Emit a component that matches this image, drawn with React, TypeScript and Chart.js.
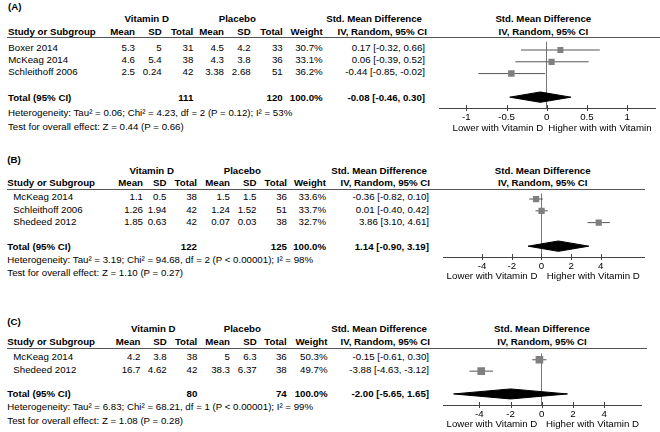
import React, { useEffect, useRef } from "react";
import { Chart, registerables } from "chart.js";
Chart.register(...registerables);

const FONT = '"Liberation Sans", Arial, Helvetica, sans-serif';
const FS = 9.7;

// ---------- Panel A ----------
const A_STUDY = ["Boxer 2014", "McKeag 2014", "Schleithoff 2006"];
const A_VD_MEAN = [5.3, 4.6, 2.5];
const A_VD_SD = [5, 5.4, 0.24];
const A_VD_N = [31, 38, 42];
const A_PL_MEAN = [4.5, 4.3, 3.38];
const A_PL_SD = [4.2, 3.8, 2.68];
const A_PL_N = [33, 36, 51];
const A_WEIGHT = [30.7, 33.1, 36.2];
const A_SMD = [0.17, 0.06, -0.44];
const A_LO = [-0.32, -0.39, -0.85];
const A_HI = [0.66, 0.52, -0.02];
const A_TOTAL_N = [111, 120];
const A_TOTAL_SMD = [-0.08, -0.46, 0.3];
const A_HET = "Heterogeneity: Tau² = 0.06; Chi² = 4.23, df = 2 (P = 0.12); I² = 53%";
const A_TEST = "Test for overall effect: Z = 0.44 (P = 0.66)";
const A_TICKS = [-1, -0.5, 0, 0.5, 1];
const A_LOWER = "Lower with Vitamin D";
const A_HIGHER = "Higher with with Vitamin";

// ---------- Panel B ----------
const B_STUDY = ["McKeag 2014", "Schleithoff 2006", "Shedeed 2012"];
const B_VD_MEAN = [1.1, 1.26, 1.85];
const B_VD_SD = [0.5, 1.94, 0.63];
const B_VD_N = [38, 42, 42];
const B_PL_MEAN = [1.5, 1.24, 0.07];
const B_PL_SD = [1.5, 1.52, 0.03];
const B_PL_N = [36, 51, 38];
const B_WEIGHT = [33.6, 33.7, 32.7];
const B_SMD = [-0.36, 0.01, 3.86];
const B_LO = [-0.82, -0.4, 3.1];
const B_HI = [0.1, 0.42, 4.61];
const B_TOTAL_N = [122, 125];
const B_TOTAL_SMD = [1.14, -0.9, 3.19];
const B_HET = "Heterogeneity: Tau² = 3.19; Chi² = 94.68, df = 2 (P < 0.00001); I² = 98%";
const B_TEST = "Test for overall effect: Z = 1.10 (P = 0.27)";
const B_TICKS = [-4, -2, 0, 2, 4];
const B_LOWER = "Lower with Vitamin D";
const B_HIGHER = "Higher with Vitamin D";

// ---------- Panel C ----------
const C_STUDY = ["McKeag 2014", "Shedeed 2012"];
const C_VD_MEAN = [4.2, 16.7];
const C_VD_SD = [3.8, 4.62];
const C_VD_N = [38, 42];
const C_PL_MEAN = [5, 38.3];
const C_PL_SD = [6.3, 6.37];
const C_PL_N = [36, 38];
const C_WEIGHT = [50.3, 49.7];
const C_SMD = [-0.15, -3.88];
const C_LO = [-0.61, -4.63];
const C_HI = [0.3, -3.12];
const C_TOTAL_N = [80, 74];
const C_TOTAL_SMD = [-2.0, -5.65, 1.65];
const C_HET = "Heterogeneity: Tau² = 6.83; Chi² = 68.21, df = 1 (P < 0.00001); I² = 99%";
const C_TEST = "Test for overall effect: Z = 1.08 (P = 0.28)";
const C_TICKS = [-4, -2, 0, 2, 4];
const C_LOWER = "Lower with Vitamin D";
const C_HIGHER = "Higher with Vitamin D";

const COL_HEADS = ["Mean", "SD", "Total", "Mean", "SD", "Total", "Weight"];

function T({ x, y, a = "l", b = false, children }: any) {
  const tx = a === "r" ? "-100%" : a === "c" ? "-50%" : "0";
  return (
    <div
      style={{
        position: "absolute",
        left: x,
        top: y,
        transform: `translate(${tx}, -50%)`,
        whiteSpace: "nowrap",
        fontWeight: b ? "bold" : "normal",
        lineHeight: 1,
        fontSize: FS,
        fontFamily: FONT,
        color: "#000",
      }}
    >
      {children}
    </div>
  );
}

function Forest(p: any) {
  const ref = useRef<HTMLCanvasElement | null>(null);
  useEffect(() => {
    const rows = p.smd.map((_: number, i: number) => i);
    const tr = p.totalRow;
    const h = 0.44;
    const [te, tl, th] = p.total;
    const ds: any[] = [];
    ds.push({
      data: p.smd.map((v: number, i: number) => ({ x: v, y: rows[i] })),
      pointStyle: "rect",
      pointRadius: p.weight.map((w: number) => (1.08 * Math.sqrt(w)) / Math.SQRT2),
      backgroundColor: "#7f7f7f",
      borderColor: "#7f7f7f",
      borderWidth: 0,
      order: 0,
    });
    ds.push({
      data: [
        { x: tl, y: tr },
        { x: te, y: tr - h },
        { x: th, y: tr },
        { x: te, y: tr + h },
        { x: tl, y: tr },
      ],
      showLine: true,
      fill: "shape",
      backgroundColor: "#000",
      borderColor: "#000",
      borderWidth: 1,
      pointRadius: 0,
      tension: 0,
      order: 1,
    });
    p.smd.forEach((_: number, i: number) =>
      ds.push({
        data: [
          { x: p.lo[i], y: rows[i] },
          { x: p.hi[i], y: rows[i] },
        ],
        showLine: true,
        borderColor: "#555",
        borderWidth: 1,
        pointRadius: 0,
        fill: false,
        order: 2,
      })
    );
    const axisH = p.height - p.plotH;
    const marks = {
      id: "marks",
      afterDraw(chart: any) {
        const { ctx, chartArea } = chart;
        const x = chart.scales.x;
        const yb = chartArea.bottom;
        ctx.save();
        ctx.strokeStyle = "#444";
        ctx.lineWidth = 1;
        x.ticks.forEach((t: any) => {
          const px = Math.round(x.getPixelForValue(t.value)) + 0.5;
          ctx.beginPath();
          ctx.moveTo(px, yb - 3);
          ctx.lineTo(px, yb + 3);
          ctx.stroke();
        });
        ctx.font = `${FS}px ${FONT}`;
        ctx.fillStyle = "#000";
        ctx.textBaseline = "middle";
        const z = x.getPixelForValue(0);
        ctx.textAlign = "right";
        ctx.fillText(p.lower, z - p.gapL, yb + p.labelDy);
        ctx.textAlign = "left";
        ctx.fillText(p.higher, z + p.gapR, yb + p.labelDy);
        ctx.restore();
      },
    };
    const chart = new Chart(ref.current as HTMLCanvasElement, {
      type: "scatter",
      data: { datasets: ds },
      options: {
        responsive: false,
        animation: false,
        events: [],
        layout: { padding: 0 },
        plugins: { legend: { display: false }, tooltip: { enabled: false } },
        scales: {
          x: {
            type: "linear",
            min: p.xMin,
            max: p.xMax,
            afterBuildTicks: (s: any) => {
              s.ticks = p.ticks.map((v: number) => ({ value: v }));
            },
            afterFit: (s: any) => {
              s.height = axisH;
            },
            grid: {
              drawTicks: false,
              color: (c: any) => (c.tick && c.tick.value === 0 ? "#777" : "rgba(0,0,0,0)"),
              lineWidth: 1,
            },
            border: { display: true, color: "#444", width: 1 },
            ticks: {
              autoSkip: false,
              maxRotation: 0,
              padding: 4,
              color: "#000",
              font: { family: FONT, size: FS },
              callback: (v: any) => String(v),
            },
          },
          y: { type: "linear", display: false, reverse: true, min: p.yMin, max: p.yMax },
        },
      } as any,
      plugins: [marks],
    });
    return () => chart.destroy();
  }, []);
  return (
    <canvas
      ref={ref}
      width={p.width}
      height={p.height}
      style={{ position: "absolute", left: p.left, top: p.top, width: p.width, height: p.height }}
    />
  );
}

function Panel(p: any) {
  const L = p.L;
  const f2 = (v: number) => v.toFixed(2);
  return (
    <>
      <T x={L.labelX} y={L.labelY} b>{p.label}</T>
      <T x={L.vdC} y={L.groupY} a="c" b>Vitamin D</T>
      <T x={L.plC} y={L.groupY} a="c" b>Placebo</T>
      <T x={L.h1R} y={L.groupY} a="r" b>Std. Mean Difference</T>
      <T x={L.plotC} y={L.groupY} a="c" b>Std. Mean Difference</T>
      <T x={L.titleX} y={L.colY} b>Study or Subgroup</T>
      {COL_HEADS.map((c, i) => (
        <T key={"h" + i} x={L.cols[i]} y={L.colY} a="r" b>{c}</T>
      ))}
      <T x={L.h2R} y={L.colY} a="r" b>IV, Random, 95% CI</T>
      <T x={L.plotC} y={L.colY} a="c" b>IV, Random, 95% CI</T>
      <div style={{ position: "absolute", left: L.lineX1, top: L.lineY, width: L.lineX2 - L.lineX1, height: 1, background: "#555" }} />
      {p.study.map((s: string, i: number) => {
        const cells = [p.vdMean[i], p.vdSd[i], p.vdN[i], p.plMean[i], p.plSd[i], p.plN[i], p.weight[i].toFixed(1) + "%"];
        return (
          <React.Fragment key={"r" + i}>
            <T x={L.nameX} y={L.rows[i]}>{s}</T>
            {cells.map((c: any, j: number) => (
              <T key={"c" + j} x={L.cols[j]} y={L.rows[i]} a="r">{String(c)}</T>
            ))}
            <T x={L.smdR} y={L.rows[i]} a="r">{`${f2(p.smd[i])} [${f2(p.lo[i])}, ${f2(p.hi[i])}]`}</T>
          </React.Fragment>
        );
      })}
      <T x={L.titleX} y={L.totalY} b>Total (95% CI)</T>
      <T x={L.cols[2]} y={L.totalY} a="r" b>{String(p.totN[0])}</T>
      <T x={L.cols[5]} y={L.totalY} a="r" b>{String(p.totN[1])}</T>
      <T x={L.cols[6]} y={L.totalY} a="r" b>100.0%</T>
      <T x={L.smdR} y={L.totalY} a="r" b>{`${f2(p.tot[0])} [${f2(p.tot[1])}, ${f2(p.tot[2])}]`}</T>
      <T x={L.titleX} y={L.hetY}>{p.het}</T>
      <T x={L.titleX} y={L.testY}>{p.test}</T>
      <Forest
        left={L.cLeft}
        top={L.cTop}
        width={L.cWidth}
        height={L.cHeight}
        plotH={L.plotH}
        xMin={L.xMin}
        xMax={L.xMax}
        yMin={L.yMin}
        yMax={L.yMax}
        ticks={p.ticks}
        smd={p.smd}
        lo={p.lo}
        hi={p.hi}
        weight={p.weight}
        total={p.tot}
        totalRow={p.study.length + 1}
        lower={p.lower}
        higher={p.higher}
        gapL={L.gapL}
        gapR={L.gapR}
        labelDy={L.labelDy}
      />
    </>
  );
}

const LAYOUT_A = {
  labelX: 8, labelY: 6.5, groupY: 19, colY: 32.3, vdC: 146.7, plC: 237.3,
  h1R: 422, h2R: 427, plotC: 543.3, titleX: 8, nameX: 8.3,
  cols: [135, 161.7, 193.3, 224, 250.7, 282.7, 322.7], smdR: 425,
  lineX1: 7, lineX2: 660, lineY: 37,
  rows: [47.8, 59.8, 71.8], totalY: 97.5, hetY: 112.7, testY: 126.7,
  cLeft: 435, cTop: 37, cWidth: 225, cHeight: 98, plotH: 71,
  xMin: -1.332, xMax: 1.351, yMin: -0.714, yMax: 4.92,
  gapL: 3.4, gapR: 1.6, labelDy: 20,
};
const LAYOUT_B = {
  labelX: 7.3, labelY: 160, groupY: 170.5, colY: 182.7, vdC: 151.7, plC: 242.3,
  h1R: 427, h2R: 430, plotC: 542.7, titleX: 7.3, nameX: 13.3,
  cols: [143, 166.5, 197, 230, 256.5, 287, 326], smdR: 429,
  lineX1: 7, lineX2: 645, lineY: 189,
  rows: [197.3, 210, 222.3], totalY: 246.7, hetY: 260, testY: 273.3,
  cLeft: 439, cTop: 189, cWidth: 210, cHeight: 96, plotH: 68,
  xMin: -6.6, xMax: 6.948, yMin: -0.476, yMax: 4.92,
  gapL: 4, gapR: 5.4, labelDy: 19,
};
const LAYOUT_C = {
  labelX: 7.3, labelY: 321.7, groupY: 329.3, colY: 342.3, vdC: 153.3, plC: 242.3,
  h1R: 427, h2R: 430, plotC: 542, titleX: 7.3, nameX: 13.3,
  cols: [140.5, 166.7, 197.3, 230, 256.7, 286.7, 327.5], smdR: 429,
  lineX1: 7, lineX2: 647, lineY: 348,
  rows: [357.3, 370.3], totalY: 394, hetY: 407.3, testY: 420.7,
  cLeft: 438, cTop: 348, cWidth: 209, cHeight: 84, plotH: 57,
  xMin: -6.304, xMax: 6.4, yMin: -0.556, yMax: 3.97,
  gapL: 4.4, gapR: 4.3, labelDy: 19,
};

export default function App() {
  return (
    <div style={{ position: "absolute", left: 0, top: 0, width: 660, height: 432, background: "#fff", overflow: "hidden" }}>
      <Panel L={LAYOUT_A} label="(A)" study={A_STUDY} vdMean={A_VD_MEAN} vdSd={A_VD_SD} vdN={A_VD_N}
        plMean={A_PL_MEAN} plSd={A_PL_SD} plN={A_PL_N} weight={A_WEIGHT} smd={A_SMD} lo={A_LO} hi={A_HI}
        totN={A_TOTAL_N} tot={A_TOTAL_SMD} het={A_HET} test={A_TEST} ticks={A_TICKS} lower={A_LOWER} higher={A_HIGHER} />
      <Panel L={LAYOUT_B} label="(B)" study={B_STUDY} vdMean={B_VD_MEAN} vdSd={B_VD_SD} vdN={B_VD_N}
        plMean={B_PL_MEAN} plSd={B_PL_SD} plN={B_PL_N} weight={B_WEIGHT} smd={B_SMD} lo={B_LO} hi={B_HI}
        totN={B_TOTAL_N} tot={B_TOTAL_SMD} het={B_HET} test={B_TEST} ticks={B_TICKS} lower={B_LOWER} higher={B_HIGHER} />
      <Panel L={LAYOUT_C} label="(C)" study={C_STUDY} vdMean={C_VD_MEAN} vdSd={C_VD_SD} vdN={C_VD_N}
        plMean={C_PL_MEAN} plSd={C_PL_SD} plN={C_PL_N} weight={C_WEIGHT} smd={C_SMD} lo={C_LO} hi={C_HI}
        totN={C_TOTAL_N} tot={C_TOTAL_SMD} het={C_HET} test={C_TEST} ticks={C_TICKS} lower={C_LOWER} higher={C_HIGHER} />
    </div>
  );
}
